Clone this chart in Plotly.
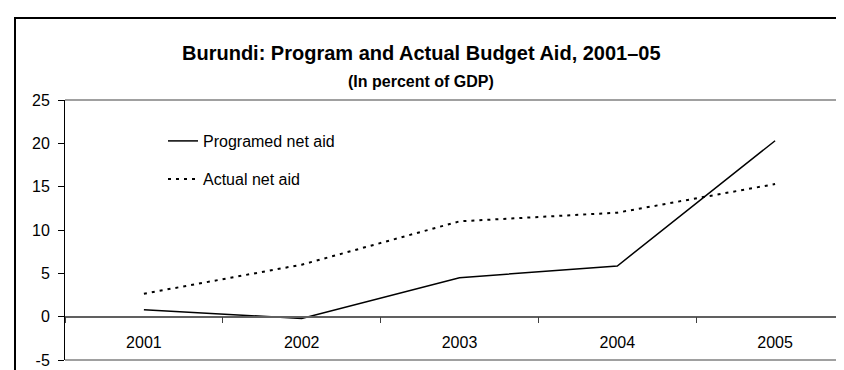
import plotly.graph_objects as go

years = ["2001", "2002", "2003", "2004", "2005"]
programmed = [0.8, -0.2, 4.5, 5.85, 20.3]
actual = [2.65, 6.0, 11.0, 12.0, 15.3]
y_ticks = [-5, 0, 5, 10, 15, 20, 25]
y_tick_labels = ["-5", "0", "5", "10", "15", "20", "25"]

W, H = 844, 370
ML, MR, MT, MB = 57, 1, 92, 18
PW = W - ML - MR
PH = H - MT - MB

def px_x(p):
    return (p - ML) / PW

def px_y(p):
    return (H - MB - p) / PH

FONT = "Arial, Liberation Sans, sans-serif"

fig = go.Figure()
fig.add_trace(go.Scatter(x=years, y=programmed, mode="lines", name="Programed net aid",
                         line=dict(color="black", width=1.5), legend="legend"))
fig.add_trace(go.Scatter(x=years, y=actual, mode="lines", name="Actual net aid",
                         line=dict(color="black", width=2, dash="3px,5px"), legend="legend2"))

fig.update_layout(
    width=W, height=H,
    margin=dict(l=ML, r=MR, t=MT, b=MB),
    paper_bgcolor="white", plot_bgcolor="white",
    font=dict(family=FONT, size=16, color="black"),
    showlegend=True,
    xaxis=dict(
        type="category", range=[-0.5, 4.5 - 3 / (PW / 4.98)],
        anchor="free", position=5 / 30,
        showline=True, linecolor="#606060", linewidth=1.5,
        ticks="outside", ticklen=6, tickcolor="#404040", tickwidth=1,
        tickson="boundaries", ticklabelstandoff=11,
        showgrid=False, zeroline=False,
        tickfont=dict(family=FONT, size=16),
    ),
    yaxis=dict(
        range=[-5, 25], tickvals=y_ticks, ticktext=y_tick_labels,
        showline=True, linecolor="black", linewidth=1,
        ticks="outside", ticklen=6, tickcolor="black",
        ticklabelstandoff=5,
        showgrid=False, zeroline=False,
        tickfont=dict(family=FONT, size=16),
    ),
    legend=dict(x=px_x(155), y=px_y(116), xanchor="left", yanchor="top",
                bgcolor="rgba(0,0,0,0)", font=dict(family=FONT, size=16)),
    legend2=dict(x=px_x(155), y=px_y(154), xanchor="left", yanchor="top",
                 bgcolor="rgba(0,0,0,0)", font=dict(family=FONT, size=16)),
    annotations=[
        dict(text="<b>Burundi: Program and Actual Budget Aid, 2001–05</b>",
             xref="paper", yref="paper", x=px_x(413), y=px_y(45),
             xanchor="center", yanchor="middle", showarrow=False,
             font=dict(family=FONT, size=20, color="black")),
        dict(text="<b>(In percent of GDP)</b>",
             xref="paper", yref="paper", x=px_x(413), y=px_y(73),
             xanchor="center", yanchor="middle", showarrow=False,
             font=dict(family=FONT, size=16, color="black")),
    ],
    shapes=[
        dict(type="line", xref="paper", yref="paper", x0=0, x1=1, y0=1, y1=1,
             line=dict(color="#808080", width=1.5)),
        dict(type="line", xref="paper", yref="paper", x0=0, x1=1, y0=0, y1=0,
             line=dict(color="#808080", width=1.5)),
        dict(type="rect", xref="paper", yref="paper",
             x0=px_x(7), x1=px_x(W + 20), y0=px_y(10), y1=px_y(H + 20),
             line=dict(color="black", width=2), fillcolor="rgba(0,0,0,0)", layer="above"),
    ],
)

fig.write_html("out.html")
